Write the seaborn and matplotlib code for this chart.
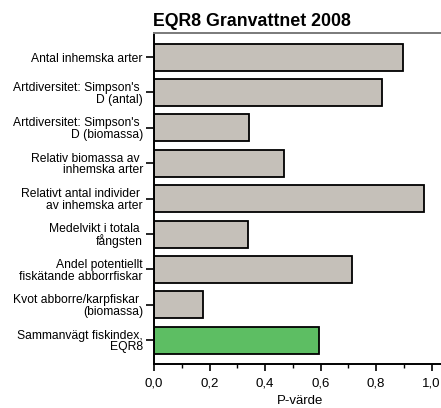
import matplotlib
matplotlib.use("Agg")
import matplotlib.pyplot as plt
import seaborn as sns
import pandas as pd
from matplotlib.ticker import MultipleLocator, FuncFormatter

categories = [
    "Antal inhemska arter",
    "Artdiversitet: Simpson's \nD (antal)",
    "Artdiversitet: Simpson's \nD (biomassa)",
    "Relativ biomassa av \ninhemska arter",
    "Relativt antal individer \nav inhemska arter",
    "Medelvikt i totala \nfångsten",
    "Andel potentiellt\nfiskätande abborrfiskar",
    "Kvot abborre/karpfiskar \n(biomassa)",
    "Sammanvägt fiskindex,\nEQR8",
]
values = [0.898, 0.821, 0.341, 0.470, 0.974, 0.338, 0.715, 0.176, 0.593]
bar_colors = ["#C5C0B9"] * 8 + ["#5DBE63"]

sns.set_theme(style="white")
plt.rcParams["font.family"] = ["Liberation Sans", "DejaVu Sans"]
plt.rcParams["text.color"] = "black"
plt.rcParams["axes.labelcolor"] = "black"
plt.rcParams["xtick.color"] = "black"
plt.rcParams["ytick.color"] = "black"

df = pd.DataFrame({"cat": categories, "val": values})

fig = plt.figure(figsize=(4.41, 4.08), dpi=100)
ax = fig.add_axes([154 / 441, 1 - 364 / 408, 1 - 154 / 441 + 0.01, (364 - 33) / 408])

sns.barplot(data=df, y="cat", x="val", hue="cat", palette=bar_colors,
            legend=False, orient="h", width=0.76, edgecolor="black",
            linewidth=1.3, ax=ax, saturation=1)

ax.set_xlim(0, 1.05)
ax.set_ylim(8.67, -0.68)
ax.xaxis.set_major_locator(MultipleLocator(0.2))
ax.xaxis.set_minor_locator(MultipleLocator(0.1))
ax.xaxis.set_major_formatter(FuncFormatter(lambda v, p: f"{v:.1f}".replace(".", ",")))
ax.tick_params(axis="x", which="major", direction="out", length=5, width=1.2,
               labelsize=9.5, bottom=True, pad=5, colors="black")
ax.tick_params(axis="x", which="minor", direction="out", length=3, width=1.0,
               bottom=True, colors="black")
ax.tick_params(axis="y", direction="out", length=6, width=1.2, left=True,
               labelsize=8.7, pad=2, colors="black")
for lab in ax.get_yticklabels():
    lab.set_horizontalalignment("right")
    lab.set_linespacing(0.95)

for s in ["left", "bottom"]:
    ax.spines[s].set_color("black")
    ax.spines[s].set_linewidth(1.4)
ax.spines["top"].set_color("#7a7a7a")
ax.spines["top"].set_linewidth(1.4)
ax.spines["right"].set_visible(False)

ax.set_ylabel("")
ax.set_xlabel("P-värde", fontsize=9.5, labelpad=4, color="black")
fig.text(0.572, 1 - 22 / 408, "EQR8 Granvattnet 2008", ha="center", va="center",
         fontsize=12.8, fontweight="bold", color="black")

fig.savefig("out.png", dpi=100)
